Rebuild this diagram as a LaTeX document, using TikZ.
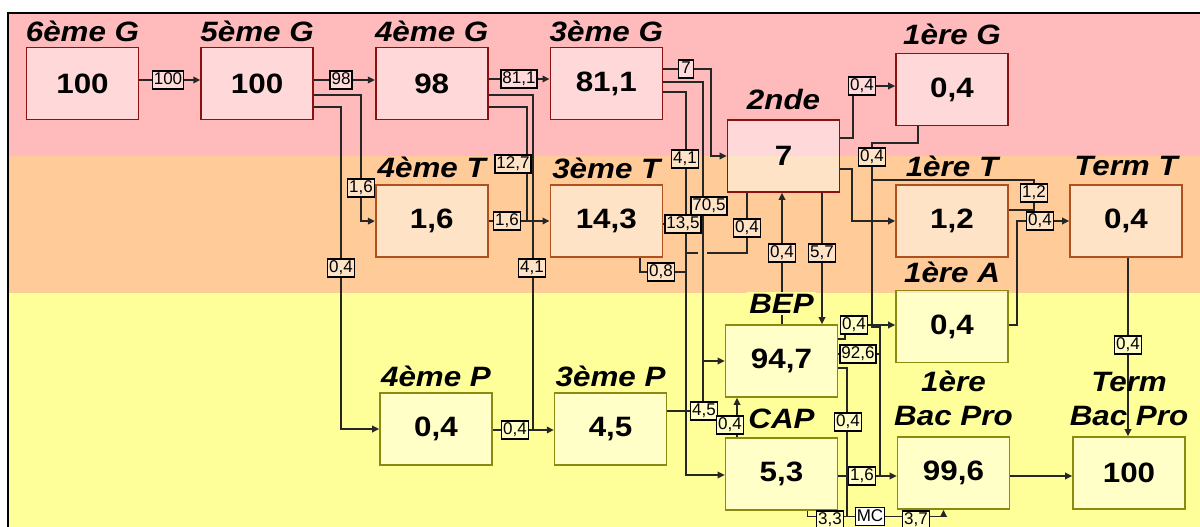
\documentclass[tikz,border=0pt]{standalone}
\usepackage{fontspec}
\setmainfont{Liberation Sans}
\newfontfamily\lvlfont[FakeStretch=1.12]{Liberation Sans}
\newfontfamily\tagfont{Liberation Sans}
\usetikzlibrary{arrows.meta, positioning, backgrounds}
\definecolor{bandP}{HTML}{FFBBBB}
\definecolor{bandO}{HTML}{FFCC99}
\definecolor{bandY}{HTML}{FFFF99}
\definecolor{edgeP}{HTML}{8B1010}
\definecolor{edgeO}{HTML}{B0501C}
\definecolor{edgeY}{HTML}{8A8A10}
\colorlet{tagP}{bandP!55!white}
\colorlet{tagO}{bandO!55!white}
\colorlet{tagY}{bandY!55!white}

\begin{document}
\begin{tikzpicture}[x=1pt, y=-1pt,
    box/.style={draw, line width=1.6pt, fill=white, fill opacity=0.45, text opacity=1,
                minimum width=112pt, minimum height=72pt, inner sep=0pt,
                font=\lvlfont\bfseries\fontsize{28}{30}\selectfont},
    boxp/.style={box, draw=edgeP},
    boxo/.style={box, draw=edgeO},
    boxy/.style={box, draw=edgeY},
    lvl/.style={inner sep=0pt, align=center,
                font=\lvlfont\bfseries\itshape\fontsize{28}{34}\selectfont},
    tag/.style={draw, line width=1.5pt, inner xsep=1.5pt, inner ysep=0pt,
                text height=12.5pt, text depth=3pt, minimum height=18pt, minimum width=15pt,
                font=\tagfont\fontsize{17}{17}\selectfont},
    tagp/.style={tag, fill=tagP},
    tago/.style={tag, fill=tagO},
    tagy/.style={tag, fill=tagY},
    flow/.style={line width=1.8pt, draw=black!85},
    arr/.style={flow, -{Triangle[length=7pt,width=6.5pt]}},
  ]
  \useasboundingbox (0,0) rectangle (1200,527);
  \begin{scope}[on background layer]
    \fill[bandP] (8,13) rectangle (1200,156);
    \fill[bandO] (8,156) rectangle (1200,293);
    \fill[bandY] (8,293) rectangle (1200,527);
    \draw[line width=1.8pt] (8,527) -- (8,13) -- (1200,13);
  \end{scope}

  \node[boxp] (g6) at (82.5,83.5) {100};
  \node[boxp, right=61pt of g6] (g5) {100};
  \node[boxp, right=61pt of g5] (g4) {98};
  \node[boxp, right=61pt of g4] (g3) {81,1};
  \node[boxo, below=64pt of g4] (t4) {1,6};
  \node[boxo, right=61pt of t4] (t3) {14,3};
  \node[boxy] (p4) at (436,429) {0,4};
  \node[boxy, right=61pt of p4] (p3) {4,5};
  \node[boxp] (sec) at (783.5,156) {7};
  \node[boxp] (p1G) at (952,89.5) {0,4};
  \node[boxo] (p1T) at (952,221) {1,2};
  \node[boxo] (termT) at (1126,221) {0,4};
  \node[boxy] (p1A) at (952,326.5) {0,4};
  \node[boxy] (bep) at (781.5,361) {94,7};
  \node[boxy] (cap) at (781.5,474) {5,3};
  \node[boxy] (bp1) at (953.5,473) {99,6};
  \node[boxy] (bpT) at (1129,473) {100};

  \node[lvl, above=5pt of g6] (l6) {6ème G};
  \node[lvl, above=5pt of g5] (l5) {5ème G};
  \node[lvl, above=5pt of g4] (l4) {4ème G};
  \node[lvl, above=5pt of g3] (l3) {3ème G};
  \node[lvl, above=9pt of sec] (lsec) {2nde};
  \node[lvl, above=8pt of p1G] (l1G) {1ère G};
  \node[lvl, above=6pt of t4] (l4T) {4ème T};
  \node[lvl, above=5pt of t3] (l3T) {3ème T};
  \node[lvl, above=7pt of p1T] (l1T) {1ère T};
  \node[lvl, above=8pt of termT] (lTT) {Term T};
  \node[lvl, above=7pt of p1A] (l1A) {1ère A};
  \node[lvl, above=9pt of bep, fill=bandY, inner sep=2pt] (lbep) {BEP};
  \node[lvl, above=8pt of cap] (lcap) {CAP};
  \node[lvl, above=5pt of p4] (l4P) {4ème P};
  \node[lvl, above=5pt of p3] (l3P) {3ème P};
  \node[lvl, above=10pt of bp1] (lbp1) {1ère\\Bac Pro};
  \node[lvl, above=10pt of bpT] (lbpT) {Term\\Bac Pro};

  \coordinate (j1) at (527,221);
  \coordinate (j2) at (533,430);
  \coordinate (jB) at (703,361);
  \coordinate (jC) at (686,475);
  \coordinate (jD) at (880,476);
  \coordinate (jE) at (847,516);

  \node[tagp] (a100) at (168,80) {100};
  \node[tagp] (a98) at (341,80) {98};
  \node[tago] (a16a) at (361,188) {1,6};
  \node[tago] (a04a) at (341,268) {0,4};
  \node[tagp] (a811) at (519,79) {81,1};
  \node[tago] (a127) at (513,164) {12,7};
  \node[tago] (a16b) at (507,221) {1,6};
  \node[tago] (a41a) at (532,268) {4,1};
  \node[tagy] (a04k) at (515,430) {0,4};
  \node[tagp] (a7) at (686,69) {7};
  \node[tago] (a41b) at (685,159) {4,1};
  \node[tago] (a705) at (709,206) {70,5};
  \node[tago] (a135) at (683,224) {13,5};
  \node[tago] (a08) at (661,272) {0,8};
  \node[tago] (a04b) at (747,228) {0,4};
  \node[tago] (a04c) at (782,253) {0,4};
  \node[tago] (a57) at (822,253) {5,7};
  \node[tagp] (a04d) at (862,86) {0,4};
  \node[tago] (a04e) at (872,157) {0,4};
  \node[tago] (a12) at (1034,193) {1,2};
  \node[tago] (a04f) at (1040,221) {0,4};
  \node[tagy] (a04g) at (1128,345) {0,4};
  \node[tagy] (a04h) at (854,325) {0,4};
  \node[tagy] (a926) at (858,354) {92,6};
  \node[tagy] (a04i) at (848,422) {0,4};
  \node[tagy] (a16c) at (862,476) {1,6};
  \node[tagy] (a45) at (704,411) {4,5};
  \node[tagy] (a04j) at (730,425) {0,4};
  \node[tagy] (a33) at (830,520) {3,3};
  \node[tagy, fill=white] (mc) at (870,516.5) {MC};
  \node[tagy] (a37) at (916,520) {3,7};

  \begin{scope}[on background layer]
    \draw[arr] (g6.east |- a100) -- (g5.west |- a100);
    \draw[arr] (g5.east |- a98) -- (g4.west |- a98);
    \draw[arr] (g5.east |- 0,95) -| (a16a) |- (t4.west);
    \draw[arr] (g5.east |- 0,107) -| (a04a) |- (p4.west);
    \draw[arr] (g4.east |- a811) -- (g3.west |- a811);
    \draw[flow] (g4.east |- 0,107) -| (j1);
    \draw[arr] (t4.east |- j1) -- (t3.west |- j1);
    \draw[flow] (g4.east |- 0,95) -| (j2);
    \draw[arr] (p4.east |- j2) -- (p3.west |- j2);
    \draw[arr] (g3.east |- a7) -| ([xshift=-16pt]sec.west) -- (sec.west);
    \draw[flow] (g3.east |- 0,82) -| (jB);
    \draw[arr] (jB) -- (bep.west |- jB);
    \draw[arr] (g3.east |- 0,92) -| (jC) -- (cap.west |- jC);
    \draw[flow] (t3.east |- a135) -- (a135 -| jB);
    \draw[flow] ([xshift=-23pt]t3.south east) |- (a08) -- (a08 -| jC);
    \draw[flow] ([xshift=20pt]sec.south west) |- (707,253);
    \draw[flow] (698,253) -- (jC |- 0,253);
    \draw[arr] (bep.north -| a04c) -- (sec.south -| a04c);
    \draw[arr] (sec.south -| a57) -- (bep.north -| a57);
    \draw[flow] (sec.east |- 0,138) -| ([xshift=-9pt]a04d.south);
    \draw[arr] (a04d.east) -- (p1G.west |- a04d);
    \draw[arr] (sec.east |- 0,169) -| ([xshift=-43pt]p1T.west) -- (p1T.west);
    \draw[flow] ([xshift=-34pt]p1G.south) |- (a04e |- 0,143) -- (a04e |- 0,327) -| (jD);
    \draw[flow] (p1T.east |- 0,210) -| (a12) |- (a04e |- 0,180);
    \draw[arr] (cap.east |- jD) -- (bp1.west |- jD);
    \draw[flow] (bep.east |- a926) -- (a926 -| jD);
    \draw[flow] (bep.east |- 0,339) -| ([xshift=-9pt]a04h.south);
    \draw[arr] (a04h.east) -- (p1A.west |- a04h);
    \draw[arr] (p1A.east |- a04h) -| ([xshift=-52pt]termT.west) -- (termT.west);
    \draw[arr] (termT.south -| a04g) -- (bpT.north -| a04g);
    \draw[arr] (bp1.east |- jD) -- (bpT.west |- jD);
    \draw[flow] (bep.east |- 0,368) -| (jE);
    \draw[flow] ([xshift=26pt]cap.south) |- (mc.west);
    \draw[arr] (mc.east) -| ([xshift=-10pt]bp1.south);
    \draw[arr] (cap.north -| 737,0) -- (bep.south -| 737,0);
    \draw[flow] (p3.east |- a45) -- (a45);
    \draw[flow] (a45 -| jB) -- (jB);
  \end{scope}
\end{tikzpicture}
\end{document}
